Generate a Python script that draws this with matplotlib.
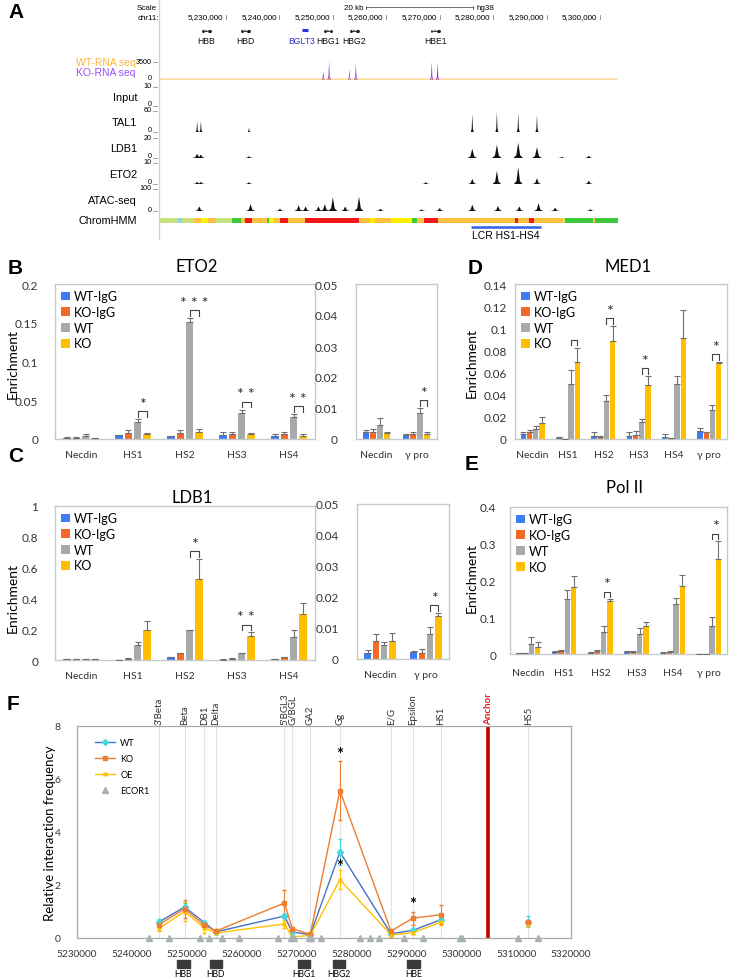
import numpy as np
import matplotlib
matplotlib.use('Agg')
import matplotlib.pyplot as plt
import matplotlib.transforms as mtransforms
from matplotlib.patches import Rectangle
from matplotlib.lines import Line2D

plt.rcParams['font.family'] = ['Lato', 'DejaVu Sans']

W, H = 732, 979
fig = plt.figure(figsize=(W / 100, H / 100), dpi=100)


def px_axes(x0, y0, x1, y1):
    # axes placed by a pixel box, y counted from the top
    return fig.add_axes([x0 / W, 1 - y1 / H, (x1 - x0) / W, (y1 - y0) / H])


def ftext(x, y, s, **kw):
    kw.setdefault('va', 'center')
    return fig.text(x / W, 1 - y / H, s, **kw)


def fline(xs, ys, **kw):
    fig.add_artist(Line2D([x / W for x in xs], [1 - y / H for y in ys], **kw))


# ---------------- panel A data (kb on chr11, hg38) ----------------
browser_xlim = (5217.46, 5303.37)
coord_ticks = [5230, 5240, 5250, 5260, 5270, 5280, 5290, 5300]
scale_bar = (5256.2, 20)
gene_names = ['HBB', 'HBD', 'BGLT3', 'HBG1', 'HBG2', 'HBE1']
gene_start = [5225.5, 5232.8, 5244.3, 5248.3, 5253.2, 5268.3]
gene_end = [5227.1, 5234.5, 5245.3, 5249.9, 5254.8, 5270.0]

rna_pos = [5248.2, 5249.3, 5253.1, 5254.3, 5268.5, 5269.6]
rna_ko = [0.48, 1.0, 0.57, 0.85, 0.96, 0.96]
rna_wt = [0.17, 0.2, 0.25, 0.2, 0.2, 0.15]

tal1_pos = [5224.6, 5225.3, 5234.3, 5276.1, 5280.7, 5284.7, 5288.2]
tal1_h = [0.5, 0.5, 0.2, 0.82, 0.9, 0.86, 0.77]
ldb1_pos = [5224.6, 5225.3, 5234.3, 5276.1, 5280.7, 5284.7, 5288.2, 5292.9, 5297.9]
ldb1_h = [0.2, 0.16, 0.08, 0.44, 0.63, 0.73, 0.52, 0.05, 0.1]
eto2_pos = [5224.6, 5225.3, 5234.3, 5267.4, 5276.1, 5280.7, 5284.7, 5288.2, 5297.9]
eto2_h = [0.1, 0.1, 0.08, 0.08, 0.23, 0.6, 0.77, 0.26, 0.15]
atac_pos = [5225.0, 5234.6, 5240.1, 5243.6, 5244.9, 5247.3, 5248.5, 5250.0, 5252.3,
            5254.9, 5258.9, 5266.6, 5270.0, 5276.1, 5280.9, 5284.9, 5288.5, 5291.6, 5298.2]
atac_h = [0.2, 0.3, 0.1, 0.25, 0.2, 0.2, 0.3, 0.6, 0.2, 0.62, 0.1, 0.07, 0.13,
          0.28, 0.22, 0.2, 0.34, 0.15, 0.08]

hmm_edges = [5217.5, 5221.0, 5221.7, 5224.1, 5225.4, 5226.7, 5228.2, 5231.1, 5232.8,
             5233.5, 5234.9, 5237.7, 5238.1, 5239.0, 5240.1, 5241.6, 5244.7, 5254.8,
             5257.0, 5257.8, 5260.9, 5264.9, 5265.7, 5267.0, 5269.7, 5284.1, 5284.6,
             5286.8, 5287.7, 5293.0, 5293.4, 5298.6, 5299.1, 5303.4]
hmm_states = ['lg', 'lb', 'lg', 'or', 'ye', 'or', 'lg', 'gr', 'or', 'rd', 'or', 'gr',
              'ye', 'or', 'rd', 'or', 'rd', 'or', 'ye', 'or', 'ye', 'gr', 'or', 'rd',
              'or', 'rd', 'or', 'rd', 'or', 'lg', 'gr', 'or', 'gr']
hmm_colors = {'lg': '#C6E27E', 'lb': '#8FD3E6', 'or': '#FFC240', 'ye': '#FFF000',
              'gr': '#3CC83C', 'rd': '#F21818'}
lcr_span = (5275.8, 5289.0)

# ---------------- panels B-E data ----------------
legend_labels = ['WT-IgG', 'KO-IgG', 'WT', 'KO']
bar_colors = ['#3F7BF2', '#F46A25', '#A6AAA9', '#FFBE00']

eto2_cats = ['Necdin', 'HS1', 'HS2', 'HS3', 'HS4']
eto2_vals = [[0.0017, 0.0047, 0.0034, 0.0056, 0.0043],
             [0.0017, 0.0077, 0.0077, 0.0069, 0.0065],
             [0.0043, 0.0215, 0.151, 0.0335, 0.028],
             [0.0013, 0.006, 0.0095, 0.0065, 0.0043]]
eto2_errs = [[0.0005, 0.0005, 0.0005, 0.003, 0.0022],
             [0.0005, 0.004, 0.0033, 0.0026, 0.0021],
             [0.0022, 0.0045, 0.005, 0.0045, 0.004],
             [0.0005, 0.0017, 0.0035, 0.0008, 0.0022]]
eto2_sig = [(1, '*'), (2, '* * *'), (3, '* *'), (4, '* *')]

eto2s_cats = ['Necdin', 'γ pro']
eto2s_vals = [[0.0022, 0.0013], [0.0024, 0.0017], [0.0045, 0.0085], [0.0018, 0.0017]]
eto2s_errs = [[0.0006, 0.0004], [0.0008, 0.0006], [0.0022, 0.0015], [0.0005, 0.0006]]
eto2s_sig = [(1, '*')]

ldb1_cats = ['Necdin', 'HS1', 'HS2', 'HS3', 'HS4']
ldb1_vals = [[0.004, 0.002, 0.018, 0.003, 0.004],
             [0.004, 0.008, 0.043, 0.009, 0.02],
             [0.004, 0.096, 0.192, 0.044, 0.148],
             [0.005, 0.192, 0.526, 0.155, 0.301]]
ldb1_errs = [[0.001, 0.001, 0.002, 0.001, 0.001],
             [0.001, 0.002, 0.003, 0.001, 0.002],
             [0.001, 0.02, 0.003, 0.002, 0.044],
             [0.001, 0.059, 0.131, 0.024, 0.072]]
ldb1_sig = [(2, '*'), (3, '* *')]

ldb1s_cats = ['Necdin', 'γ pro']
ldb1s_vals = [[0.0018, 0.0022], [0.0059, 0.0018], [0.0046, 0.0081], [0.0059, 0.0139]]
ldb1s_errs = [[0.0011, 0.0003], [0.0022, 0.0014], [0.0008, 0.0022], [0.0024, 0.0009]]
ldb1s_sig = [(1, '*')]

med1_cats = ['Necdin', 'HS1', 'HS2', 'HS3', 'HS4', 'γ pro']
med1_vals = [[0.0042, 0.001, 0.0027, 0.003, 0.0021, 0.0073],
             [0.0067, 0.0003, 0.0021, 0.0036, 0.0006, 0.006],
             [0.0088, 0.050, 0.0339, 0.0152, 0.050, 0.0264],
             [0.0148, 0.0694, 0.0885, 0.049, 0.091, 0.0688]]
med1_errs = [[0.0018, 0.0005, 0.004, 0.0037, 0.0024, 0.003],
             [0.0015, 0.0, 0.0009, 0.004, 0.0, 0.0],
             [0.0032, 0.0127, 0.0061, 0.0028, 0.0067, 0.0039],
             [0.0055, 0.013, 0.0135, 0.008, 0.0257, 0.0006]]
med1_sig = [(1, ''), (2, '*'), (3, '*'), (5, '*')]

pol2_cats = ['Necdin', 'HS1', 'HS2', 'HS3', 'HS4', 'γ pro']
pol2_vals = [[0.002, 0.0064, 0.0036, 0.0064, 0.0036, 0.001],
             [0.0027, 0.009, 0.0073, 0.0064, 0.0045, 0.001],
             [0.027, 0.150, 0.059, 0.0545, 0.136, 0.077],
             [0.020, 0.182, 0.143, 0.077, 0.186, 0.259]]
pol2_errs = [[0.0005, 0.0016, 0.0005, 0.0026, 0.0028, 0.0],
             [0.0005, 0.003, 0.0027, 0.0026, 0.0028, 0.0],
             [0.018, 0.025, 0.018, 0.0155, 0.017, 0.023],
             [0.012, 0.030, 0.007, 0.011, 0.030, 0.048]]
pol2_sig = [(2, '*'), (5, '*')]

# ---------------- panel F data ----------------
f_labels = ["3'Beta", 'Beta', 'DB1', 'Delta', "5'BGL3", 'G/BGL', 'GA2', 'Gg',
            'E/G', 'Epsilon', 'HS1', 'HS5']
f_pos = [5244900, 5249600, 5253200, 5255300, 5267800, 5269200, 5272500, 5277900,
         5287200, 5291200, 5296300, 5312200]
anchor_pos = 5304900
wt = [0.60, 1.17, 0.58, 0.23, 0.83, 0.23, 0.12, 3.24, 0.16, 0.29, 0.69, 0.62]
wt_err = [0.12, 0.15, 0.08, 0.04, 0.08, 0.04, 0.02, 0.48, 0.04, 0.06, 0.06, 0.20]
ko = [0.50, 1.10, 0.48, 0.26, 1.32, 0.35, 0.14, 5.56, 0.26, 0.75, 0.88, 0.62]
ko_err = [0.10, 0.35, 0.08, 0.08, 0.50, 0.05, 0.02, 1.12, 0.05, 0.25, 0.35, 0.05]
oe = [0.35, 1.00, 0.38, 0.19, 0.53, 0.04, 0.10, 2.20, 0.12, 0.20, 0.60, 0.52]
oe_err = [0.08, 0.37, 0.18, 0.05, 0.15, 0.04, 0.02, 0.35, 0.08, 0.05, 0.10, 0.08]
ecor1 = [5243100, 5246800, 5252400, 5254100, 5256400, 5259600, 5266700, 5269000,
         5269500, 5272200, 5272700, 5274400, 5281600, 5283300, 5285000, 5289500,
         5293100, 5299700, 5300100, 5310400, 5314000]
f_stars = [(5277900, 6.95), (5277900, 2.72), (5291200, 1.3)]
f_genes = ['HBB', 'HBD', 'HBG1', 'HBG2', 'HBE']
f_gene_pos = [5249400, 5255300, 5271400, 5277800, 5291300]

letter = dict(fontsize=15, fontweight='bold', family='Liberation Sans')
bf = dict(family=['Liberation Sans', 'DejaVu Sans'])

# ================= panel A =================
ftext(8, 12, 'A', **letter)
fline([159, 159], [0, 240], color='#F6BBD2', lw=0.9)

hdr = px_axes(159, 0, 618, 50)
hdr.set_xlim(*browser_xlim)
hdr.set_ylim(50, 0)
hdr.axis('off')
ftext(157, 8, 'Scale', ha='right', fontsize=5.8, **bf)
ftext(159, 18, 'chr11:', ha='right', fontsize=5.8, **bf)
s0, slen = scale_bar
hdr.plot([s0, s0 + slen], [8, 8], color='#555555', lw=0.6)
hdr.plot([s0, s0], [6.5, 9.5], color='#555555', lw=0.6)
hdr.plot([s0 + slen, s0 + slen], [6.5, 9.5], color='#555555', lw=0.6)
hdr.text(s0 - 0.5, 8, '20 kb', ha='right', va='center', fontsize=5.8, **bf)
hdr.text(s0 + slen + 0.6, 8, 'hg38', ha='left', va='center', fontsize=5.8, **bf)
for c in coord_ticks:
    hdr.plot([c, c], [16, 20], color='#666666', lw=0.5)
    hdr.text(c - 0.5, 18, f'{int(c * 1000):,}', ha='right', va='center', fontsize=5.8, **bf)
for name, gs, ge in zip(gene_names, gene_start, gene_end):
    mid = (gs + ge) / 2
    if name == 'BGLT3':
        hdr.plot([gs, ge], [31, 31], color='#2F2FD6', lw=2.2, solid_capstyle='butt')
        col = '#2F2FD6'
        mid -= 0.7  # label nudged left, as in the browser image
    else:
        hdr.plot([gs, ge], [32, 32], color='#222222', lw=0.6)
        hdr.plot([gs, gs + 0.35], [32, 32], color='#222222', lw=2.2, solid_capstyle='butt')
        hdr.plot([ge - 0.5, ge], [32, 32], color='#222222', lw=2.2, solid_capstyle='butt')
        hdr.plot([mid - 0.1, mid + 0.1], [31, 32], color='#222222', lw=0.5)
        col = '#111111'
    hdr.text(mid, 41, name, ha='center', va='center', fontsize=6.2, color=col, **bf)


def peaks(ax, pos, hts, half, color):
    for p, h in zip(pos, hts):
        ax.fill([p - half, p - half * 0.4, p, p + half * 0.4, p + half],
                [0, h * 0.18, h, h * 0.18, 0], color=color, lw=0)


def track_axes(top, bottom):
    ax = px_axes(159, top, 618, bottom)
    ax.set_xlim(*browser_xlim)
    ax.set_ylim(0, 1)
    ax.axis('off')
    return ax


def scale_marks(top, bottom, top_lbl):
    ftext(152, top, top_lbl, ha='right', fontsize=5.2, **bf)
    ftext(152, bottom - 2, '0', ha='right', fontsize=5.2, **bf)
    fline([153, 157], [top + 1, top + 1], color='#777777', lw=0.5)
    fline([153, 157], [bottom, bottom], color='#777777', lw=0.5)


# RNA-seq
rna_ax = track_axes(62, 81)
rna_ax.axhline(0, color='#FDDFA6', lw=2.6, zorder=0)
peaks(rna_ax, rna_pos, rna_ko, 0.32, '#8A3FF0')
peaks(rna_ax, rna_pos, rna_wt, 0.32, '#FFB43A')
ftext(136, 63, 'WT-RNA seq', ha='right', fontsize=7.5, color='#FFB43A', **bf)
ftext(136, 73, 'KO-RNA seq', ha='right', fontsize=7.5, color='#9B4DFF', **bf)
ftext(152, 62, '3500', ha='right', fontsize=5.2, **bf)
ftext(152, 78, '0', ha='right', fontsize=5.2, **bf)
fline([153, 157], [63, 63], color='#777777', lw=0.5)

tracks = [('Input', '10', 87, 107, [], [], 0.5),
          ('TAL1', '60', 111, 133, tal1_pos, tal1_h, 0.28),
          ('LDB1', '20', 138, 159, ldb1_pos, ldb1_h, 0.9),
          ('ETO2', '10', 163, 185, eto2_pos, eto2_h, 0.8),
          ('ATAC-seq', '100', 189, 212, atac_pos, atac_h, 0.85)]
for name, mx, top, bottom, pos, hts, half in tracks:
    ax = track_axes(top, bottom)
    ax.axhline(0.01, color='#444444', lw=0.7)
    peaks(ax, pos, hts, half, '#111111')
    ftext(137, (top + bottom) / 2 + 1, name, ha='right', fontsize=7.8, **bf)
    scale_marks(top, bottom, mx)

hmm_ax = track_axes(219, 224)
hmm_ax.broken_barh([(a, b - a) for a, b in zip(hmm_edges[:-1], hmm_edges[1:])], (0, 1),
                   facecolors=[hmm_colors[s] for s in hmm_states], lw=0)
ftext(137, 221, 'ChromHMM', ha='right', fontsize=7.8, **bf)

lcr_ax = track_axes(225, 240)
lcr_ax.set_ylim(15, 0)
lcr_ax.plot(lcr_span, [3, 3], color='#2D62E6', lw=1.8, solid_capstyle='butt')
lcr_ax.text(sum(lcr_span) / 2, 11, 'LCR HS1-HS4', ha='center', va='center', fontsize=7.5, **bf)


# ================= bar panels =================
def bar_panel(box, cats, vals, errs, ymax, step, sig, legend=False, xpad=8, ypad=8,
              width=0.15, spacing=0.175):
    ax = px_axes(*box)
    n = len(cats)
    x = np.arange(n)
    for k in range(4):
        off = (k - 1.5) * spacing
        ax.bar(x + off, vals[k], width, color=bar_colors[k], label=legend_labels[k], zorder=2)
        ax.errorbar(x + off, vals[k], yerr=[np.zeros(n), errs[k]], fmt='none',
                    ecolor='#6E6E6E', elinewidth=0.8, capsize=2, capthick=0.8, zorder=3)
    for i, txt in sig:
        top = max(vals[2][i] + errs[2][i], vals[3][i] + errs[3][i])
        yb = top + 0.05 * ymax
        x0, x1 = i + 0.5 * spacing, i + 1.5 * spacing
        ax.plot([x0, x0, x1, x1], [yb - 0.035 * ymax, yb, yb, yb - 0.035 * ymax],
                color='#444444', lw=0.8, clip_on=False, zorder=4)
        if txt:
            ax.text((x0 + x1) / 2, yb + 0.003 * ymax, txt, ha='center', va='bottom',
                    fontsize=11.5, color='#333333')
    ax.set_xlim(-0.5, n - 0.5)
    ax.set_ylim(0, ymax)
    ticks = np.arange(0, ymax + step / 2, step)
    ax.set_yticks(ticks)
    ax.set_yticklabels([f'{t:g}' for t in ticks])
    ax.set_xticks(x)
    ax.set_xticklabels(cats)
    ax.tick_params(axis='y', length=0, labelsize=8.5, pad=ypad, colors='#333333')
    ax.tick_params(axis='x', length=0, labelsize=7.5, pad=xpad, colors='#333333')
    for s in ax.spines.values():
        s.set_color('#C4CACA')
        s.set_linewidth(1.0)
    if legend:
        ax.legend(loc='upper left', frameon=False, fontsize=9, handlelength=0.7,
                  handleheight=0.7, handletextpad=0.3, labelspacing=0.3,
                  borderaxespad=0.2, borderpad=0.3)
    return ax


# B
ftext(8, 268, 'B', **letter)
ftext(197, 267, 'ETO2', ha='center', fontsize=12)
ftext(13, 364, 'Enrichment', ha='center', rotation=90, fontsize=10)
bar_panel((55, 285, 315, 440), eto2_cats, eto2_vals, eto2_errs, 0.2, 0.05, eto2_sig,
          legend=True, ypad=12)
bar_panel((356, 285, 437, 440), eto2s_cats, eto2s_vals, eto2s_errs, 0.05, 0.01, eto2s_sig,
          ypad=13)

# C
ftext(8, 457, 'C', **letter)
ftext(192, 498, 'LDB1', ha='center', fontsize=12)
ftext(13, 598, 'Enrichment', ha='center', rotation=90, fontsize=10)
bar_panel((55, 507, 315, 661), ldb1_cats, ldb1_vals, ldb1_errs, 1.0, 0.2, ldb1_sig,
          legend=True, ypad=12)
bar_panel((357, 505, 449, 660), ldb1s_cats, ldb1s_vals, ldb1s_errs, 0.05, 0.01, ldb1s_sig,
          ypad=13)

# D
ftext(468, 268, 'D', **letter)
ftext(628, 267, 'MED1', ha='center', fontsize=12)
ftext(472, 363, 'Enrichment', ha='center', rotation=90, fontsize=10)
bar_panel((515, 285, 727, 440), med1_cats, med1_vals, med1_errs, 0.14, 0.02, med1_sig,
          legend=True, ypad=6)

# E
ftext(465, 465, 'E', **letter)
ftext(625, 488, 'Pol II', ha='center', fontsize=12)
ftext(472, 578, 'Enrichment', ha='center', rotation=90, fontsize=10)
bar_panel((510, 508, 727, 655), pol2_cats, pol2_vals, pol2_errs, 0.4, 0.1, pol2_sig,
          legend=True, ypad=10, xpad=10)

# ================= panel F =================
ftext(7, 705, 'F', **letter)
axf = px_axes(77, 727, 571, 939)
axf.set_xlim(5230000, 5320000)
axf.set_ylim(0, 8)
trans = mtransforms.blended_transform_factory(axf.transData, axf.transAxes)
for p, lbl in zip(f_pos, f_labels):
    axf.axvline(p, color='#E2E2E2', lw=0.8, zorder=0)
    axf.text(p, 1.01, lbl, rotation=90, ha='center', va='bottom', fontsize=7,
             color='#333333', transform=trans)
axf.axvline(anchor_pos, color='#C00000', lw=2.6, zorder=1)
axf.text(anchor_pos, 1.01, 'Anchor', rotation=90, ha='center', va='bottom', fontsize=7,
         color='#E02020', fontweight='bold', transform=trans)

series = [(wt, wt_err, '#4472C4', '#45D6E0', 'D', 'WT'),
          (oe, oe_err, '#FFC000', '#FFC000', 'x', 'OE'),
          (ko, ko_err, '#ED7D31', '#ED7D31', 's', 'KO')]
for vals, errs, lc, mc, mk, name in series:
    axf.errorbar(f_pos[:11], vals[:11], yerr=errs[:11], color=lc, lw=1.0, marker=mk,
                 ms=3.2, mfc=mc, mec=mc, ecolor=mc, elinewidth=0.8, capsize=1.6, zorder=3)
    axf.errorbar(f_pos[11:], vals[11:], yerr=errs[11:], fmt=mk, ms=3.2, mfc=mc, mec=mc,
                 ecolor=mc, elinewidth=0.8, capsize=1.6, zorder=3)
axf.plot(ecor1, [0] * len(ecor1), '^', color='#A8B2B2', ms=4, clip_on=False, zorder=5)
for sx, sy in f_stars:
    axf.text(sx, sy, '*', ha='center', va='center', fontsize=12, fontweight='bold', zorder=6)

for g, gp in zip(f_genes, f_gene_pos):
    axf.add_patch(Rectangle((gp - 1100, -0.142), 2200, 0.036, transform=trans,
                            color='#3A3A3A', clip_on=False))
    axf.text(gp, -0.168, g, ha='center', va='center', fontsize=6.2, transform=trans)

axf.set_xticks(np.arange(5230000, 5320001, 10000))
axf.set_xticklabels([str(v) for v in np.arange(5230000, 5320001, 10000)])
axf.set_yticks([0, 2, 4, 6, 8])
axf.tick_params(axis='x', length=0, labelsize=7.2, pad=8, colors='#333333')
axf.tick_params(axis='y', length=0, labelsize=7.5, pad=12, colors='#333333')
for s in axf.spines.values():
    s.set_color('#A9A9A9')
    s.set_linewidth(0.9)
ftext(50, 833, 'Relative interaction frequency', ha='center', rotation=90, fontsize=9.5)

handles = [Line2D([0], [0], color='#4472C4', marker='D', ms=3, mfc='#45D6E0', mec='#45D6E0', lw=1),
           Line2D([0], [0], color='#ED7D31', marker='s', ms=3, lw=1),
           Line2D([0], [0], color='#FFC000', marker='x', ms=3, lw=1),
           Line2D([0], [0], color='#A8B2B2', marker='^', ms=4, ls='none')]
axf.legend(handles, ['WT', 'KO', 'OE', 'ECOR1'], loc='upper left', bbox_to_anchor=(0.02, 0.98),
           frameon=False, fontsize=6.5, handlelength=2.2, labelspacing=0.75, handletextpad=0.6)

fig.savefig('out.png', dpi=100)
